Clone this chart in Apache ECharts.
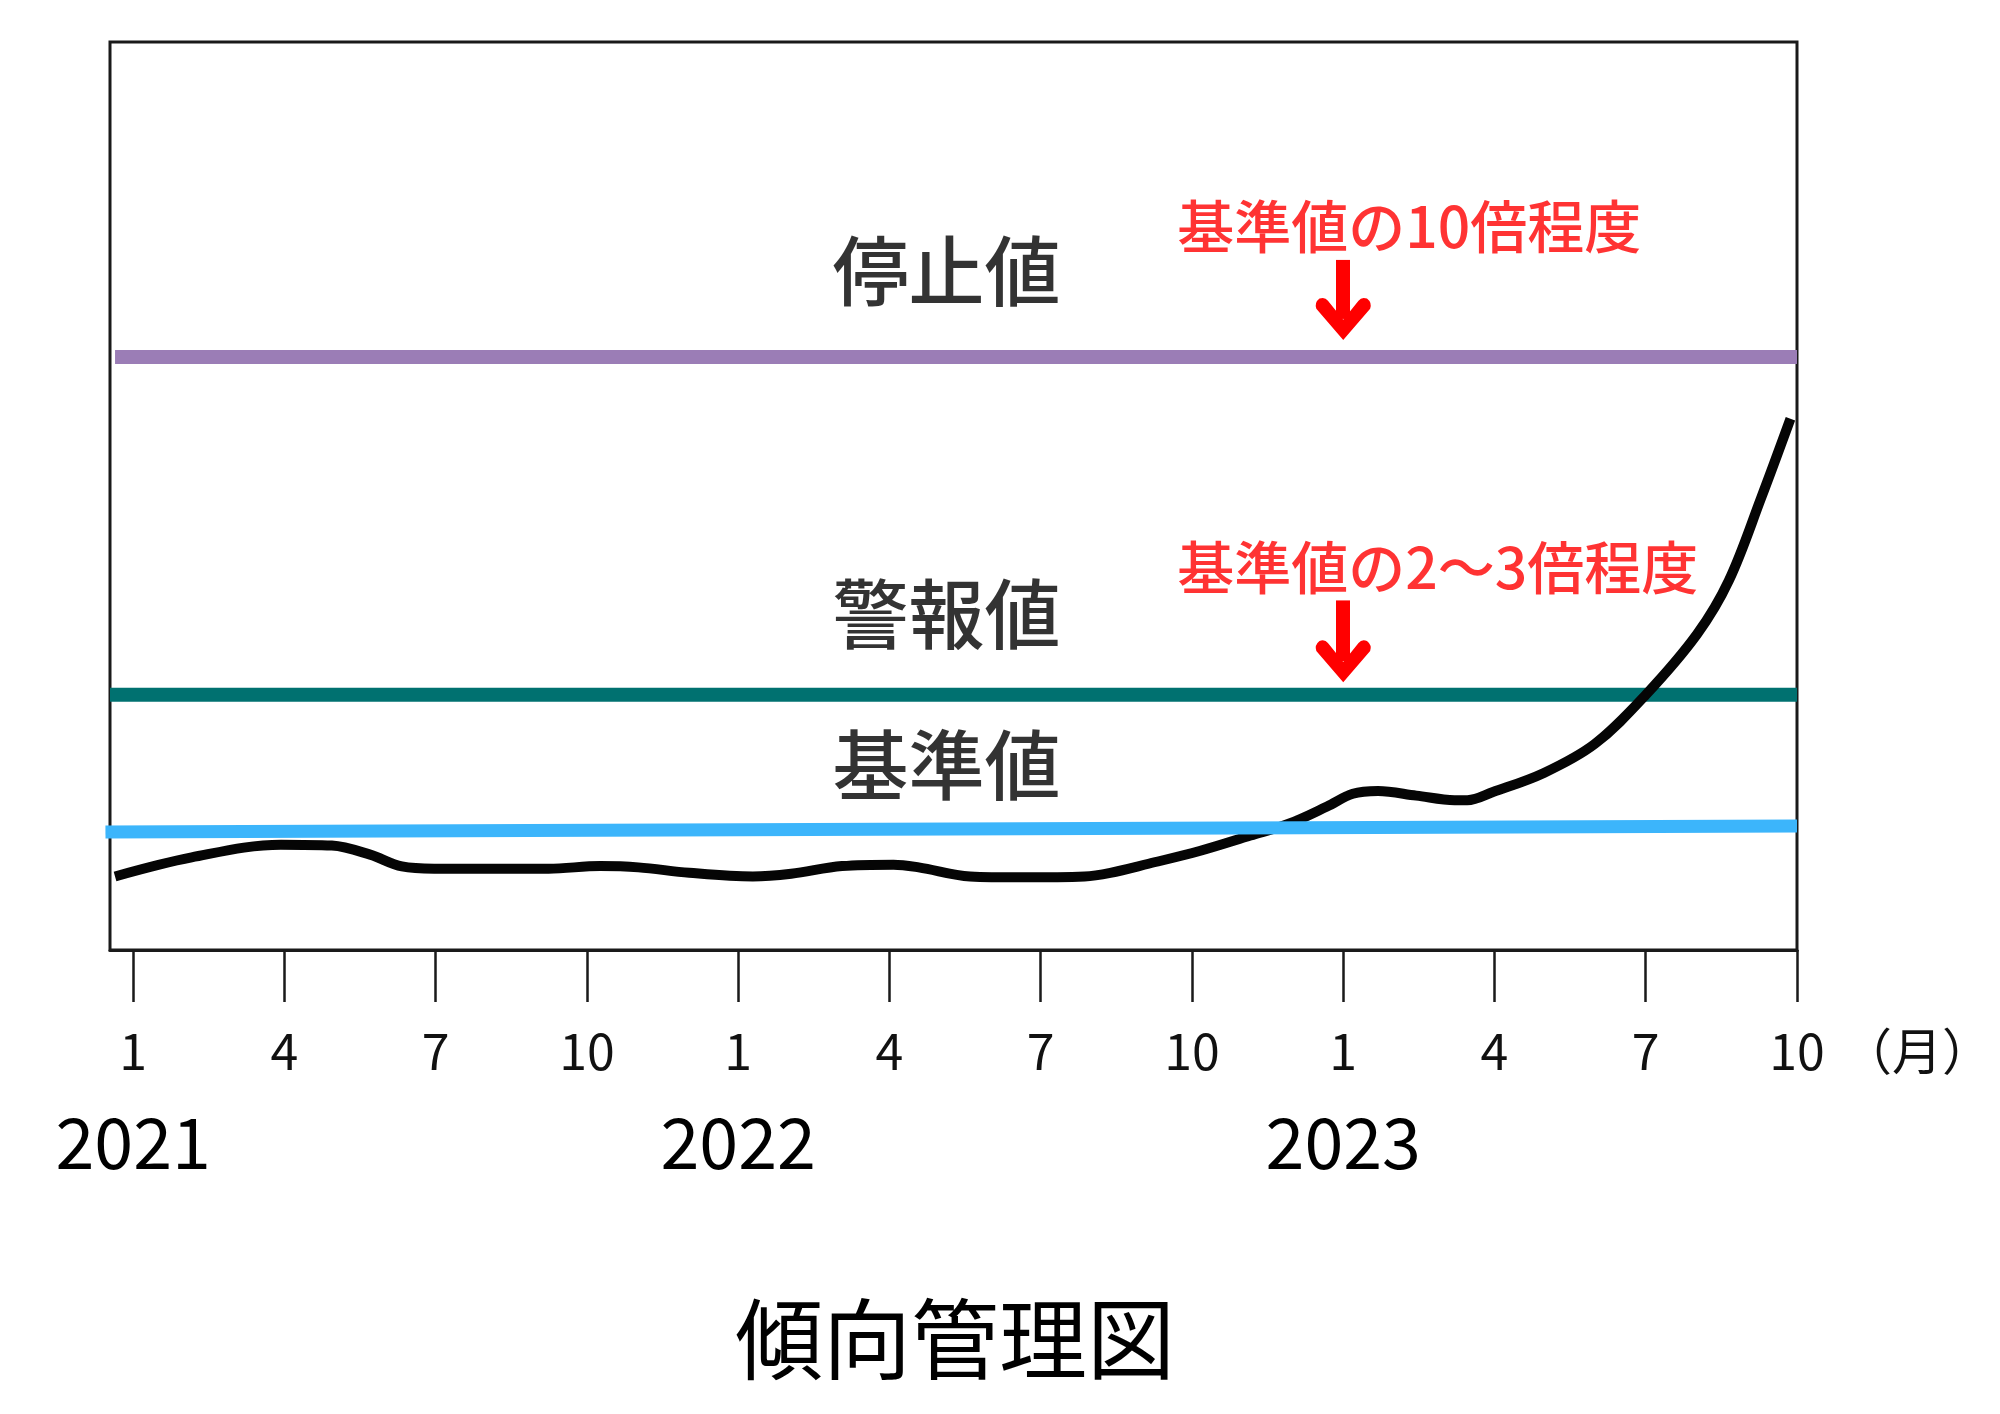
<!DOCTYPE html>
<html>
<head>
<meta charset="utf-8">
<script src="https://cdn.jsdelivr.net/npm/echarts@6/dist/echarts.min.js"></script>
<style>
html,body{margin:0;padding:0;background:#fff;}
#chart{width:2000px;height:1414px;}
</style>
</head>
<body>
<div id="chart"></div>
<script>
// ---------- data ----------
// x = month index since 2021-01 (0 = Jan 2021), y = relative level (arbitrary units)
const monthTicks = [0, 3, 6, 9, 12, 15, 18, 21, 24, 27, 30, 33];
const monthLabels = ['1', '4', '7', '10', '1', '4', '7', '10', '1', '4', '7', '10'];
const yearTicks = [0, 12, 24];
const yearLabels = ['2021', '2022', '2023'];

const trendMonth = [-0.36, 1.16, 2.93, 3.94, 4.70, 5.33, 5.97, 7.48, 8.24, 9.26, 10.02, 11.03, 12.29, 13.05,
  14.06, 15.08, 15.58, 16.6, 17.6, 18.87, 19.38, 20.14, 21.15, 22.16, 22.92, 23.68, 24.19, 24.69,
  25.45, 26.21, 26.46, 26.97, 27.98, 28.99, 30.0, 31.02, 31.65, 32.29, 32.87];
const trendValue = [8.1, 10.2, 11.6, 11.5, 10.5, 9.2, 8.96, 8.96, 8.96, 9.24, 9.1, 8.5, 8.1, 8.4,
  9.24, 9.4, 9.1, 8.1, 8.0, 8.1, 8.5, 9.5, 10.9, 12.6, 13.9, 15.8, 17.2, 17.5,
  17.0, 16.5, 16.5, 17.4, 19.5, 22.7, 28.1, 34.8, 40.7, 49.8, 58.5];

const levelNames = ['停止値', '警報値', '基準値'];
const levelStartValue = [65.3, 28.1, 13.0];
const levelEndValue = [65.3, 28.1, 13.66];
const levelColors = ['#9b7db6', '#007170', '#3cb5fb'];

const noteTexts = ['基準値の10倍程度', '基準値の2〜3倍程度'];
const noteMonth = 24;

// ---------- layout constants ----------
const X_MIN = -0.46, X_MAX = 33;
const FONT = '"Noto Sans CJK JP", "Noto Sans CJK SC", sans-serif';

const chevronUp = 'path://M27.5,0 L53,31 Q55,37 50,41 Q45,43 42,39 L27.5,20 L13,39 Q10,43 5,41 Q0,37 2,31 Z';

const levelStartX = [-0.36, X_MIN, -0.55];
const levelLabelOffset = [9.5, 8.9, 7.0];
const noteTextOffset = [14.4, 14.0];
const arrowTopOffset = [10.7, 10.4];
const arrowHeadOffset = [4.2, 3.7];

const series = [];

// threshold lines
levelNames.forEach(function (name, i) {
  const s = {
    name: name,
    type: 'line',
    xAxisIndex: 0,
    symbol: 'none',
    z: i === 2 ? 5 : 2,
    lineStyle: { color: levelColors[i], width: i === 2 ? 13 : 14, cap: 'butt' },
    data: [[levelStartX[i], levelStartValue[i]], [X_MAX, levelEndValue[i]]],
    animation: false,
    silent: true
  };
  if (i < noteTexts.length) {
    s.markLine = {
      silent: true,
      animation: false,
      symbol: ['none', chevronUp],
      symbolSize: [55, 42],
      label: { show: false },
      lineStyle: { color: '#ff0000', width: 14, type: 'solid', opacity: 1 },
      itemStyle: { color: '#ff0000' },
      emphasis: { disabled: true },
      data: [[
        { coord: [noteMonth, levelStartValue[i] + arrowTopOffset[i]], symbol: 'none' },
        { coord: [noteMonth, levelStartValue[i] + arrowHeadOffset[i]] }
      ]]
    };
  }
  series.push(s);
});

// trend curve
series.push({
  name: 'trend',
  type: 'line',
  xAxisIndex: 0,
  symbol: 'none',
  smooth: 0.35,
  z: 4,
  lineStyle: { color: '#050505', width: 10, cap: 'butt', join: 'round' },
  data: trendMonth.map(function (m, i) { return [m, trendValue[i]]; }),
  animation: false,
  silent: true
});

// level labels
series.push({
  type: 'scatter',
  xAxisIndex: 0,
  symbolSize: 1,
  itemStyle: { color: 'transparent' },
  silent: true,
  animation: false,
  z: 6,
  label: {
    show: true, position: 'inside', formatter: '{b}',
    fontSize: 76, color: '#000', fontWeight: 500, fontFamily: FONT
  },
  data: levelNames.map(function (n, i) {
    return { name: n, value: [(X_MIN + X_MAX) / 2 - 0.14, (levelStartValue[i] + levelEndValue[i]) / 2 + levelLabelOffset[i]] };
  })
});

// red notes
series.push({
  type: 'scatter',
  xAxisIndex: 0,
  symbolSize: 1,
  itemStyle: { color: 'transparent' },
  silent: true,
  animation: false,
  z: 6,
  label: {
    show: true, position: 'right', distance: 0, formatter: '{b}',
    fontSize: 57, color: '#ff0000', fontWeight: 500, fontFamily: FONT
  },
  data: noteTexts.map(function (t, i) {
    return { name: t, value: [noteMonth - 3.3, levelStartValue[i] + noteTextOffset[i]] };
  })
});

const option = {
  backgroundColor: '#ffffff',
  animation: false,
  title: {
    text: '傾向管理図',
    left: 730,
    top: 1290,
    textStyle: { fontSize: 88, fontWeight: 'normal', color: '#000', fontFamily: FONT }
  },
  grid: {
    left: 110, top: 42, right: 203, bottom: 464,
    show: true, borderColor: '#1a1a1a', borderWidth: 3,
    containLabel: false, outerBoundsMode: 'none'
  },
  xAxis: [
    {
      type: 'value', min: X_MIN, max: X_MAX, position: 'bottom',
      splitLine: { show: false },
      axisLine: { show: true, onZero: false, lineStyle: { color: '#1a1a1a', width: 3 } },
      axisTick: { show: true, length: 52, customValues: monthTicks, lineStyle: { color: '#1a1a1a', width: 2.5 } },
      axisLabel: {
        show: true, customValues: monthTicks, margin: 76,
        fontSize: 50, color: '#111', fontFamily: FONT,
        formatter: function (v) { const i = monthTicks.indexOf(Math.round(v)); return i >= 0 ? monthLabels[i] : ''; }
      },
      name: '（月）', nameLocation: 'end', nameGap: 45,
      nameTextStyle: { fontSize: 50, color: '#111', fontFamily: FONT, verticalAlign: 'top', padding: [76, 0, 0, 0] }
    },
    {
      type: 'value', min: X_MIN, max: X_MAX, position: 'bottom',
      splitLine: { show: false },
      axisLine: { show: false },
      axisTick: { show: false },
      axisLabel: {
        show: true, customValues: yearTicks, margin: 157,
        fontSize: 70, color: '#000', fontFamily: FONT,
        formatter: function (v) { const i = yearTicks.indexOf(Math.round(v)); return i >= 0 ? yearLabels[i] : ''; }
      }
    }
  ],
  yAxis: {
    type: 'value', min: 0, max: 100, show: false, splitLine: { show: false }
  },
  series: series
};

const chart = echarts.init(document.getElementById('chart'), null, { renderer: 'canvas' });
chart.setOption(option);
</script>
</body>
</html>
